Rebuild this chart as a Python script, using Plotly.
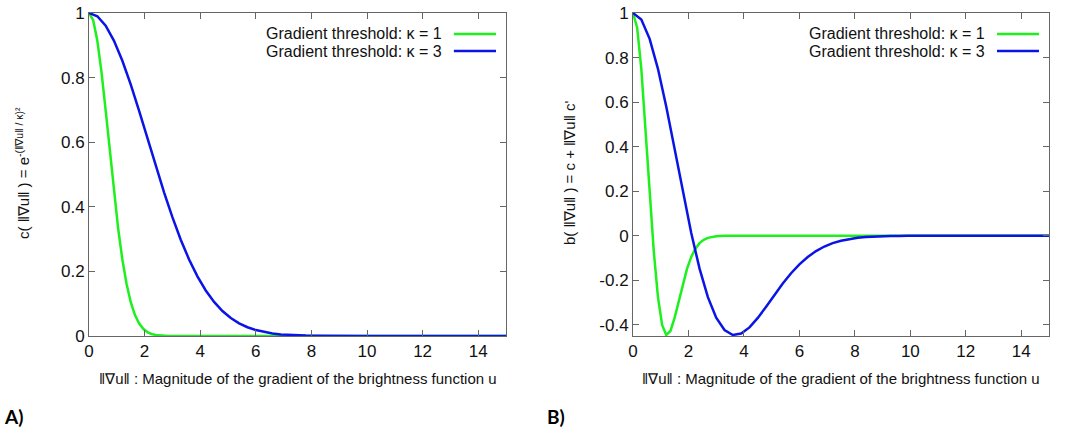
import plotly.graph_objects as go

# ---- data ----
x_k1 = [0, 0.15, 0.3, 0.45, 0.6, 0.75, 0.9, 1.05, 1.2, 1.35, 1.5, 1.65, 1.8, 1.95,
        2.1, 2.25, 2.4, 2.55, 2.7, 2.85, 3.0, 3.3, 3.6, 15]
c_k1 = [1, 0.9778, 0.9139, 0.8167, 0.6977, 0.5698, 0.4449, 0.3320, 0.2369, 0.1616,
        0.1054, 0.0657, 0.0392, 0.0223, 0.0122, 0.0063, 0.0032, 0.0015, 0.0007,
        0.0003, 0.0001, 0.0, 0.0, 0.0]
b_k1 = [1, 0.9338, 0.7494, 0.4859, 0.1954, -0.0712, -0.2758, -0.4001, -0.4454,
        -0.4275, -0.3689, -0.2921, -0.2146, -0.1474, -0.0951, -0.0578, -0.0332,
        -0.0180, -0.0093, -0.0045, -0.0021, -0.0004, -0.0001, 0.0]

x_k3 = [0, 0.3, 0.6, 0.9, 1.2, 1.5, 1.8, 2.1, 2.4, 2.7, 3.0, 3.3, 3.6, 3.9, 4.2,
        4.5, 4.8, 5.1, 5.4, 5.7, 6.0, 6.3, 6.6, 6.9, 7.2, 7.5, 7.8, 8.1, 8.4, 8.7,
        9.0, 9.3, 9.6, 9.9, 15]
c_k3 = [1, 0.9900, 0.9608, 0.9139, 0.8521, 0.7788, 0.6977, 0.6126, 0.5273, 0.4449,
        0.3679, 0.2982, 0.2369, 0.1845, 0.1409, 0.1054, 0.0773, 0.0556, 0.0392,
        0.0271, 0.0183, 0.0122, 0.0079, 0.0050, 0.0032, 0.0019, 0.0012, 0.0007,
        0.0004, 0.0002, 0.0001, 0.0001, 0.0, 0.0, 0.0]
b_k3 = [1, 0.9703, 0.8839, 0.7494, 0.5795, 0.3894, 0.1954, 0.0123, -0.1476, -0.2758,
        -0.3679, -0.4234, -0.4454, -0.4392, -0.4113, -0.3689, -0.3185, -0.2657,
        -0.2146, -0.1683, -0.1282, -0.0951, -0.0687, -0.0483, -0.0331, -0.0222,
        -0.0145, -0.0092, -0.0057, -0.0035, -0.0020, -0.0012, -0.0007, -0.0004, 0.0]

series_names = ["Gradient threshold: \u03ba = 1", "Gradient threshold: \u03ba = 3"]
x_ticks = [0, 2, 4, 6, 8, 10, 12, 14]
y1_ticks = [0, 0.2, 0.4, 0.6, 0.8, 1]
y1_ticktext = ["0", "0.2", "0.4", "0.6", "0.8", "1"]
y2_ticks = [-0.4, -0.2, 0, 0.2, 0.4, 0.6, 0.8, 1]
y2_ticktext = ["-0.4", "-0.2", "0", "0.2", "0.4", "0.6", "0.8", "1"]

GREEN = "#1ef01e"
BLUE = "#0a14e6"
FONT = "Liberation Sans, Arial, sans-serif"
W, H = 1065, 435

fig = go.Figure()
fig.add_trace(go.Scatter(x=x_k1, y=c_k1, mode="lines", line=dict(color=GREEN, width=2.5),
                         xaxis="x", yaxis="y", showlegend=False))
fig.add_trace(go.Scatter(x=x_k3, y=c_k3, mode="lines", line=dict(color=BLUE, width=2.5),
                         xaxis="x", yaxis="y", showlegend=False))
fig.add_trace(go.Scatter(x=x_k1, y=b_k1, mode="lines", line=dict(color=GREEN, width=2.5),
                         xaxis="x2", yaxis="y2", showlegend=False))
fig.add_trace(go.Scatter(x=x_k3, y=b_k3, mode="lines", line=dict(color=BLUE, width=2.5),
                         xaxis="x2", yaxis="y2", showlegend=False))

ax_common = dict(showline=True, linecolor="#666666", linewidth=1, mirror="ticks",
                 ticks="inside", ticklen=6, tickcolor="#666666", showgrid=False,
                 zeroline=False, automargin=False,
                 tickfont=dict(family=FONT, size=17, color="#111111"))

ydom = [1 - 336 / H, 1 - 13 / H]
fig.update_layout(
    width=W, height=H, margin=dict(l=0, r=0, t=0, b=0, pad=0),
    paper_bgcolor="white", plot_bgcolor="white",
    xaxis=dict(domain=[89 / W, 506 / W], range=[0, 15], tickvals=x_ticks,
               anchor="y", **ax_common),
    yaxis=dict(domain=ydom, range=[0, 1], tickvals=y1_ticks, ticktext=y1_ticktext,
               anchor="x", **ax_common),
    xaxis2=dict(domain=[633 / W, 1049 / W], range=[0, 15], tickvals=x_ticks,
                anchor="y2", **ax_common),
    yaxis2=dict(domain=ydom, range=[-0.45, 1], tickvals=y2_ticks, ticktext=y2_ticktext,
                anchor="x2", **ax_common),
)

xt = "\u2016\u2207u\u2016 : Magnitude of the gradient of the brightness function u"
ann = []
shapes = []
for xa, ya, cx, ytitle, cy in [
    ("x", "y", (89 + 506) / 2 / W,
     "c( \u2016\u2207u\u2016 ) = e<sup>-(\u2016\u2207u\u2016 / \u03ba)\u00b2</sup>", 22),
    ("x2", "y2", (633 + 1049) / 2 / W,
     "b( \u2016\u2207u\u2016 ) = c + \u2016\u2207u\u2016 c'", 569),
]:
    ann.append(dict(text=xt, x=cx, y=1 - 378 / H, xref="paper", yref="paper",
                    showarrow=False, xanchor="center", yanchor="middle",
                    font=dict(family=FONT, size=15, color="#111111")))
    ann.append(dict(text=ytitle, x=cy / W, y=1 - 173 / H, xref="paper", yref="paper",
                    showarrow=False, textangle=-90, xanchor="center", yanchor="middle",
                    font=dict(family=FONT, size=15, color="#111111")))
    for i, (name, col) in enumerate(zip(series_names, [GREEN, BLUE])):
        yy = 0.935 - i * 0.053
        ann.append(dict(text=name, x=0.851, y=yy, xref=xa + " domain", yref=ya + " domain",
                        showarrow=False, xanchor="right", yanchor="middle",
                        font=dict(family=FONT, size=16, color="#111111")))
        shapes.append(dict(type="line", xref=xa + " domain", yref=ya + " domain",
                           x0=0.875, x1=0.976, y0=yy, y1=yy,
                           line=dict(color=col, width=2.5)))

ann.append(dict(text="<b>A)</b>", x=2 / W, y=1 - 416 / H, xref="paper", yref="paper",
                showarrow=False, xanchor="left", yanchor="middle",
                font=dict(family="Lato, sans-serif", size=19, color="black")))
ann.append(dict(text="<b>B)</b>", x=545 / W, y=1 - 416 / H, xref="paper", yref="paper",
                showarrow=False, xanchor="left", yanchor="middle",
                font=dict(family="Lato, sans-serif", size=19, color="black")))

fig.update_layout(annotations=ann, shapes=shapes)
fig.write_html("out.html", config={"displayModeBar": False},
               post_script="document.body.style.margin='0px';")
